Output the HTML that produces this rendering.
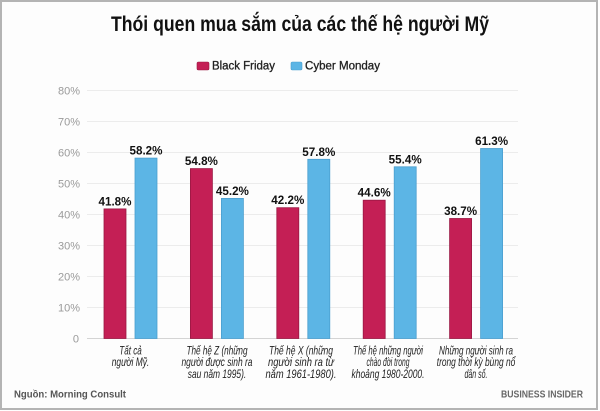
<!DOCTYPE html>
<html>
<head>
<meta charset="utf-8">
<style>
  html,body{margin:0;padding:0;background:#fff;}
  svg{display:block;}
  text{font-family:"Liberation Sans","Noto Sans CJK SC",sans-serif;}
</style>
</head>
<body>
<svg width="600" height="411" viewBox="0 0 600 411" xmlns="http://www.w3.org/2000/svg">
  <rect x="0" y="0" width="600" height="411" fill="#fff"/>
  <rect x="1" y="1" width="596" height="408" fill="#fdfdfd" stroke="#b4b4b4" stroke-width="2"/>

  <!-- Title -->
  <text x="300" y="31" text-anchor="middle" font-size="21" font-weight="bold" fill="#111" textLength="378" lengthAdjust="spacingAndGlyphs">Thói quen mua sắm của các thế hệ người Mỹ</text>

  <!-- Legend -->
  <rect x="197" y="62" width="12" height="8" rx="1.5" fill="#c41f55" stroke="#9a1843" stroke-width="0.6"/>
  <text x="212" y="69.5" font-size="11.5" fill="#222" stroke="#222" stroke-width="0.3" textLength="63" lengthAdjust="spacingAndGlyphs">Black Friday</text>
  <rect x="291" y="62" width="11" height="8" rx="1.5" fill="#5cb5e5" stroke="#4a9fcf" stroke-width="0.6"/>
  <text x="305" y="69.5" font-size="11.5" fill="#222" stroke="#222" stroke-width="0.3" textLength="75" lengthAdjust="spacingAndGlyphs">Cyber Monday</text>

  <!-- Gridlines -->
  <g stroke="#ececec" stroke-width="1">
    <line x1="87" y1="90.5" x2="518" y2="90.5"/>
    <line x1="87" y1="121.5" x2="518" y2="121.5"/>
    <line x1="87" y1="152.5" x2="518" y2="152.5"/>
    <line x1="87" y1="183.5" x2="518" y2="183.5"/>
    <line x1="87" y1="214.5" x2="518" y2="214.5"/>
    <line x1="87" y1="245.5" x2="518" y2="245.5"/>
    <line x1="87" y1="276.5" x2="518" y2="276.5"/>
    <line x1="87" y1="307.5" x2="518" y2="307.5"/>
  </g>
  <line x1="87" y1="338.5" x2="518" y2="338.5" stroke="#d4d4d4" stroke-width="1"/>

  <!-- Y labels -->
  <g font-size="11" fill="#9a9a9a" text-anchor="end">
    <text x="80" y="94.5">80%</text>
    <text x="80" y="125.5">70%</text>
    <text x="80" y="156.5">60%</text>
    <text x="80" y="187.5">50%</text>
    <text x="80" y="218.5">40%</text>
    <text x="80" y="249.5">30%</text>
    <text x="80" y="280.5">20%</text>
    <text x="80" y="311.5">10%</text>
    <text x="79" y="342.5">0</text>
  </g>

  <!-- Bars -->
  <g fill="#c41f55" stroke="#9a1843" stroke-width="0.8">
    <rect x="104" y="208.9" width="22" height="129.6"/>
    <rect x="190.4" y="168.6" width="22" height="169.9"/>
    <rect x="276.8" y="207.7" width="22" height="130.8"/>
    <rect x="363.2" y="200.2" width="22" height="138.3"/>
    <rect x="449.6" y="218.5" width="22" height="120"/>
  </g>
  <g fill="#5cb5e5" stroke="#4a9fcf" stroke-width="0.8">
    <rect x="135" y="158.1" width="22" height="180.4"/>
    <rect x="221.4" y="198.4" width="22" height="140.1"/>
    <rect x="307.8" y="159.3" width="22" height="179.2"/>
    <rect x="394.2" y="166.8" width="22" height="171.7"/>
    <rect x="480.6" y="148.5" width="22" height="190"/>
  </g>

  <!-- Value labels -->
  <g font-size="11.5" font-weight="bold" fill="#111" text-anchor="middle">
    <text x="115" y="205.4" textLength="33" lengthAdjust="spacingAndGlyphs">41.8%</text>
    <text x="146" y="154.6" textLength="33" lengthAdjust="spacingAndGlyphs">58.2%</text>
    <text x="201.4" y="165.1" textLength="33" lengthAdjust="spacingAndGlyphs">54.8%</text>
    <text x="232.4" y="194.9" textLength="33" lengthAdjust="spacingAndGlyphs">45.2%</text>
    <text x="287.8" y="204.2" textLength="33" lengthAdjust="spacingAndGlyphs">42.2%</text>
    <text x="318.8" y="155.8" textLength="33" lengthAdjust="spacingAndGlyphs">57.8%</text>
    <text x="374.2" y="196.7" textLength="33" lengthAdjust="spacingAndGlyphs">44.6%</text>
    <text x="405.2" y="163.3" textLength="33" lengthAdjust="spacingAndGlyphs">55.4%</text>
    <text x="460.6" y="215" textLength="33" lengthAdjust="spacingAndGlyphs">38.7%</text>
    <text x="491.6" y="145" textLength="33" lengthAdjust="spacingAndGlyphs">61.3%</text>
  </g>

  <!-- Category labels -->
  <g font-size="12" font-style="italic" fill="#222" text-anchor="middle">
    <text x="130.5" y="354.5" textLength="22.5" lengthAdjust="spacingAndGlyphs">Tất cả</text>
    <text x="130.5" y="366.2" textLength="37.5" lengthAdjust="spacingAndGlyphs">người Mỹ.</text>

    <text x="217" y="354.5" textLength="61" lengthAdjust="spacingAndGlyphs">Thế hệ Z (những</text>
    <text x="217" y="366.2" textLength="71" lengthAdjust="spacingAndGlyphs">người được sinh ra</text>
    <text x="217" y="377.9" textLength="58.5" lengthAdjust="spacingAndGlyphs">sau năm 1995).</text>

    <text x="301" y="354.5" textLength="64" lengthAdjust="spacingAndGlyphs">Thế hệ X (những</text>
    <text x="301" y="366.2" textLength="66" lengthAdjust="spacingAndGlyphs">người sinh ra từ</text>
    <text x="301" y="377.9" textLength="71" lengthAdjust="spacingAndGlyphs">năm 1961-1980).</text>

    <text x="388" y="354.5" textLength="70" lengthAdjust="spacingAndGlyphs">Thế hệ những người</text>
    <text x="388" y="366.2" textLength="43" lengthAdjust="spacingAndGlyphs">chào đời trong</text>
    <text x="388" y="377.9" textLength="73" lengthAdjust="spacingAndGlyphs">khoảng 1980-2000.</text>

    <text x="476" y="354.5" textLength="74" lengthAdjust="spacingAndGlyphs">Những người sinh ra</text>
    <text x="476" y="366.2" textLength="78.5" lengthAdjust="spacingAndGlyphs">trong thời kỳ bùng nổ</text>
    <text x="476" y="377.9" textLength="23" lengthAdjust="spacingAndGlyphs">dân số.</text>
  </g>

  <!-- Footer -->
  <text x="14" y="397.5" font-size="10" font-weight="bold" fill="#555" textLength="112" lengthAdjust="spacingAndGlyphs">Nguồn: Morning Consult</text>
  <text x="583" y="397.5" font-size="10" font-weight="bold" fill="#666" text-anchor="end" textLength="82" lengthAdjust="spacingAndGlyphs">BUSINESS INSIDER</text>
</svg>
</body>
</html>
